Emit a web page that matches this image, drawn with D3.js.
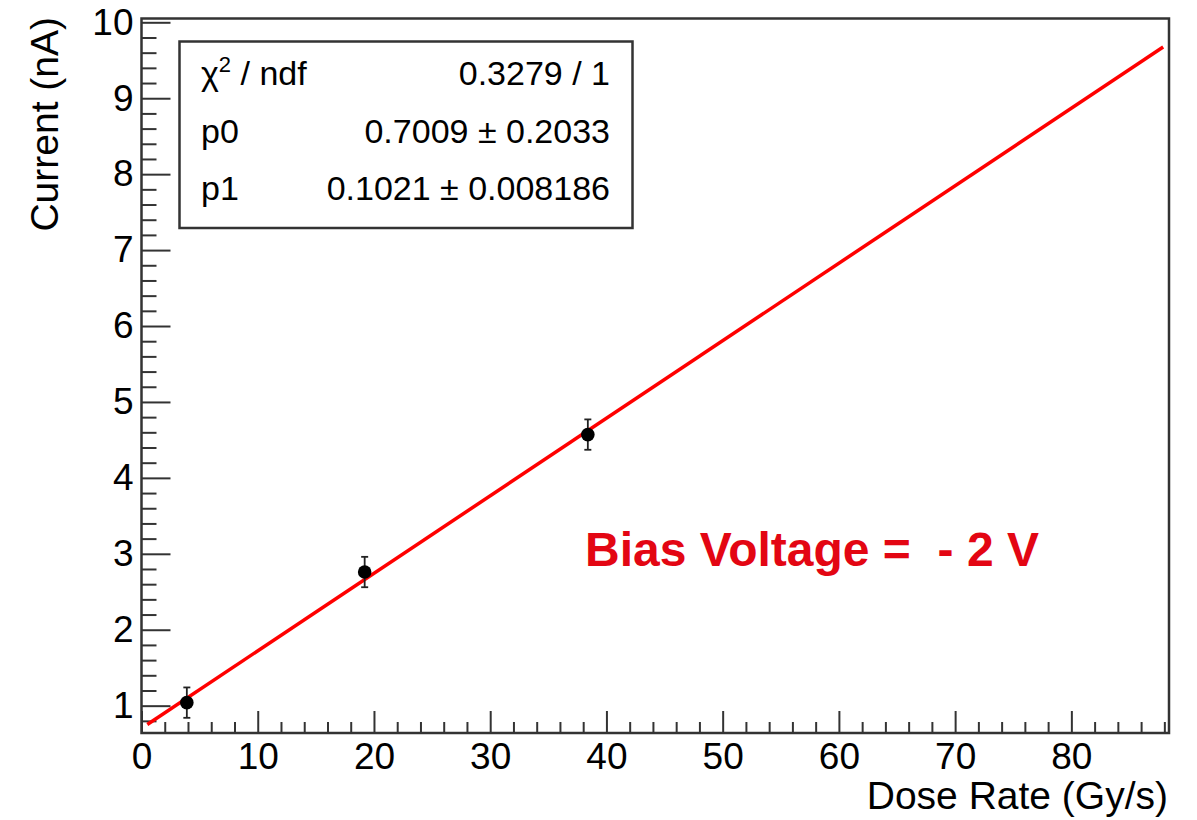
<!DOCTYPE html>
<html>
<head>
<meta charset="utf-8">
<script src="https://cdn.jsdelivr.net/npm/d3@7"></script>
<style>
  body { margin: 0; background: #fff; }
  svg { font-family: "Liberation Sans", Arial, sans-serif; }
</style>
</head>
<body>
<svg id="chart" width="1197" height="820"></svg>
<script>
// measured points
const doseRate = [3.9, 19.2, 38.4];
const current = [1.04, 2.76, 4.57];
const currentErr = [0.2, 0.2, 0.2];

// fit result  p0 + p1*x
const p0 = 0.7009;
const p1 = 0.1021;
const fitRange = [0.5, 87.9];

// stat box rows
const statNames = ["χ2 / ndf", "p0", "p1"];
const statValues = ["0.3279 / 1", "0.7009 ± 0.2033", "0.1021 ± 0.008186"];

const xTicks = [0, 10, 20, 30, 40, 50, 60, 70, 80];
const yTicks = [1, 2, 3, 4, 5, 6, 7, 8, 9, 10];

let svg = d3.select("#chart");

let x = d3.scaleLinear().domain([0, 88.4]).range([141.5, 1169]);
let y = d3.scaleLinear().domain([0.64, 10.05]).range([733, 18.5]);

let axisColor = "#333";

// minor ticks
let xMinor = d3.range(0, 88.4, 2).filter(v => v % 10 != 0);
let yMinor = d3.range(0.8, 10.05, 0.2).map(v => +v.toFixed(1)).filter(v => Math.abs(v - Math.round(v)) > 0.01);

let gx = svg.append("g").attr("transform", "translate(0,733)");
gx.call(d3.axisBottom(x).tickValues(xMinor).tickSize(-11).tickFormat(""));
gx.append("g").call(d3.axisBottom(x).tickValues(xTicks).tickSize(-22).tickPadding(10).tickFormat(d3.format("d")));

let gy = svg.append("g").attr("transform", "translate(141.5,0)");
gy.call(d3.axisLeft(y).tickValues(yMinor).tickSize(-15).tickFormat(""));
gy.append("g").call(d3.axisLeft(y).tickValues(yTicks).tickSize(-29).tickPadding(8).tickFormat(d3.format("d")));

svg.selectAll(".domain").remove();
svg.selectAll(".tick line").attr("stroke", axisColor).attr("stroke-width", 2);
svg.selectAll(".tick text").attr("fill", "#000").style("font-size", "37px");
gx.selectAll(".tick text").attr("dy", "0.71em");

// frame
svg.append("rect")
    .attr("x", x.range()[0]).attr("y", y.range()[1])
    .attr("width", x.range()[1] - x.range()[0])
    .attr("height", y.range()[0] - y.range()[1])
    .attr("fill", "none").attr("stroke", axisColor).attr("stroke-width", 2.5);

// axis titles
svg.append("text")
    .attr("x", 1168).attr("y", 809)
    .attr("text-anchor", "end")
    .style("font-size", "39px")
    .text("Dose Rate (Gy/s)");

svg.append("text")
    .attr("transform", "translate(58,17) rotate(-90)")
    .attr("text-anchor", "end")
    .style("font-size", "39px")
    .text("Current (nA)");

// fit line
let fitLine = d3.line().x(d => x(d)).y(d => y(p0 + p1 * d));
svg.append("path")
    .attr("d", fitLine(fitRange))
    .attr("stroke", "#ff0000").attr("stroke-width", 3.5).attr("fill", "none");

// error bars + markers
let pts = doseRate.map((d, i) => ({ x: d, y: current[i], e: currentErr[i] }));
let errs = svg.selectAll("g.err").data(pts).join("g").attr("class", "err")
    .attr("stroke", "#222").attr("stroke-width", 1.8);
errs.append("line")
    .attr("x1", d => x(d.x)).attr("x2", d => x(d.x))
    .attr("y1", d => y(d.y - d.e)).attr("y2", d => y(d.y + d.e));
errs.append("line")
    .attr("x1", d => x(d.x) - 3.5).attr("x2", d => x(d.x) + 3.5)
    .attr("y1", d => y(d.y - d.e)).attr("y2", d => y(d.y - d.e));
errs.append("line")
    .attr("x1", d => x(d.x) - 3.5).attr("x2", d => x(d.x) + 3.5)
    .attr("y1", d => y(d.y + d.e)).attr("y2", d => y(d.y + d.e));
svg.selectAll("circle.pt").data(pts).join("circle").attr("class", "pt")
    .attr("cx", d => x(d.x)).attr("cy", d => y(d.y))
    .attr("r", 6.8).attr("fill", "#000");

// stat box
svg.append("rect")
    .attr("x", 179.5).attr("y", 41.5).attr("width", 453).attr("height", 186.5)
    .attr("fill", "#fff").attr("stroke", axisColor).attr("stroke-width", 2.5);

let rowY = [85, 143, 200];
statNames.forEach((name, i) => {
    let t = svg.append("text").attr("x", 201).attr("y", rowY[i]).style("font-size", "34px");
    if (name.startsWith("χ2")) {
        t.append("tspan").text("χ");
        t.append("tspan").attr("dy", -13).style("font-size", "22px").text("2");
        t.append("tspan").attr("dy", 13).text(" / ndf");
    } else {
        t.text(name);
    }
    svg.append("text").attr("x", 610).attr("y", rowY[i])
        .attr("text-anchor", "end").style("font-size", "34px")
        .text(statValues[i]);
});

// annotation
svg.append("text")
    .attr("x", 585).attr("y", 566)
    .attr("fill", "#e30613")
    .style("font-size", "48px").style("font-weight", "bold")
    .attr("xml:space", "preserve")
    .text("Bias Voltage =  - 2 V");
</script>
</body>
</html>
